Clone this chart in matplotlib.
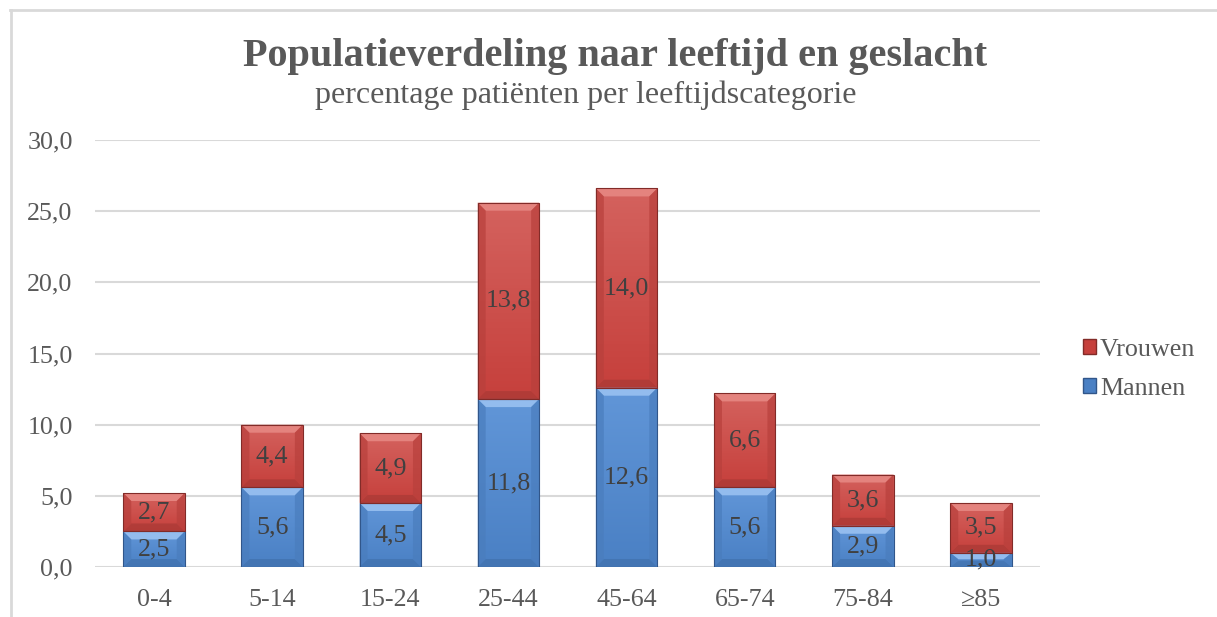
import numpy as np
import matplotlib
matplotlib.use("Agg")
import matplotlib.pyplot as plt
from matplotlib.patches import Polygon, Rectangle
from matplotlib.lines import Line2D
from matplotlib.colors import LinearSegmentedColormap

categories = ["0-4", "5-14", "15-24", "25-44", "45-64", "65-74", "75-84", "≥85"]
mannen = [2.5, 5.6, 4.5, 11.8, 12.6, 5.6, 2.9, 1.0]
vrouwen = [2.7, 4.4, 4.9, 13.8, 14.0, 6.6, 3.6, 3.5]
yticks = [0, 5, 10, 15, 20, 25, 30]

plt.rcParams['font.family'] = ['Liberation Serif', 'DejaVu Serif']
TXT = "#595959"
FS = 18.7

# colour sets: face top, face bottom, top bevel, side bevel, bottom bevel, edge
BLUE = ("#6196d8", "#4a80c4", "#93bcee", "#4a7dbd", "#3f6ea8", "#31568a")
RED = ("#d4625e", "#c6403c", "#e4837e", "#b8403c", "#a33834", "#822b28")


def bevel(ax, rect, cols, px=8):
    """Draw a bevelled look with gradient over a bar patch."""
    x0, y0 = rect.get_x(), rect.get_y()
    x1, y1 = x0 + rect.get_width(), y0 + rect.get_height()
    inv = ax.transData.inverted()
    p0 = inv.transform((0, 0))
    p1 = inv.transform((px, px))
    dx, dy = p1[0] - p0[0], p1[1] - p0[1]
    dy = min(dy, (y1 - y0) / 2.2)
    ftop, fbot, top, side, bot, edge = cols
    cmap = LinearSegmentedColormap.from_list("g", [fbot, ftop])
    im = ax.imshow(np.linspace(0, 1, 64).reshape(-1, 1), cmap=cmap, origin="lower",
                   extent=(x0, x1, y0, y1), aspect="auto", zorder=2.5)
    im.set_clip_path(Rectangle((x0, y0), x1 - x0, y1 - y0, transform=ax.transData))
    ax.add_patch(Polygon([(x0, y1), (x1, y1), (x1 - dx, y1 - dy), (x0 + dx, y1 - dy)],
                         closed=True, fc=top, ec="none", zorder=3))
    ax.add_patch(Polygon([(x0, y0), (x1, y0), (x1 - dx, y0 + dy), (x0 + dx, y0 + dy)],
                         closed=True, fc=bot, ec="none", zorder=3, alpha=0.6))
    ax.add_patch(Polygon([(x0, y0), (x0, y1), (x0 + dx, y1 - dy), (x0 + dx, y0 + dy)],
                         closed=True, fc=side, ec="none", zorder=3, alpha=0.7))
    ax.add_patch(Polygon([(x1, y0), (x1, y1), (x1 - dx, y1 - dy), (x1 - dx, y0 + dy)],
                         closed=True, fc=side, ec="none", zorder=3, alpha=0.7))
    ax.add_patch(Rectangle((x0, y0), x1 - x0, y1 - y0, fc="none", ec=edge, lw=0.8, zorder=4))


fig = plt.figure(figsize=(12.17, 6.17), dpi=100)
ax = fig.add_axes([0.078, 0.081, 0.7766, 0.692])
x = np.arange(len(categories))

ax.set_xlim(-0.5, len(categories) - 0.5)
ax.set_ylim(0, 30)

b1 = ax.bar(x, mannen, width=0.52, color=BLUE[1], zorder=2, label="Mannen")
b2 = ax.bar(x, vrouwen, width=0.52, bottom=mannen, color=RED[1], zorder=2, label="Vrouwen")

for r in b1:
    bevel(ax, r, BLUE)
for r in b2:
    bevel(ax, r, RED)
ax.set_xlim(-0.5, len(categories) - 0.5)
ax.set_ylim(0, 30)

fmt = lambda v: f"{v:.1f}".replace(".", ",")
for cont, vals in ((b1, mannen), (b2, vrouwen)):
    lbl = ax.bar_label(cont, labels=[fmt(v) for v in vals], label_type="center",
                       fontsize=FS, color="#404040")
    for t in lbl:
        t.set_zorder(6)

ax.set_yticks(yticks)
ax.set_yticklabels([fmt(v) for v in yticks], fontsize=FS, color=TXT)
ax.set_xticks(x)
ax.set_xticklabels(categories, fontsize=FS, color=TXT)
ax.tick_params(axis="both", length=0)
ax.tick_params(axis="x", pad=16)
ax.tick_params(axis="y", pad=16)
ax.yaxis.grid(True, color="#d9d9d9", lw=1.5, zorder=0)
ax.set_axisbelow(True)
for s in ax.spines.values():
    s.set_visible(False)

handles = [Rectangle((0, 0), 1, 1, fc=RED[1], ec=RED[5]),
           Rectangle((0, 0), 1, 1, fc=BLUE[1], ec=BLUE[5])]
ax.legend(handles, ["Vrouwen", "Mannen"], loc="center left", bbox_to_anchor=(1.0455, 0.4625),
          frameon=False, fontsize=FS, labelcolor=TXT, handlelength=0.5, borderpad=0,
          borderaxespad=0, handleheight=0.5, handletextpad=0.15, labelspacing=0.65)

fig.text(615 / 1217, 1 - 66 / 617, "Populatieverdeling naar leeftijd en geslacht",
         ha="center", va="baseline", fontsize=29, fontweight="bold", color=TXT)
fig.text(586 / 1217, 1 - 103 / 617, "percentage patiënten per leeftijdscategorie",
         ha="center", va="baseline", fontsize=23, color=TXT)

# outer chart frame (top and left edge visible)
fig.add_artist(Line2D([10 / 1217, 1], [1 - 10 / 617, 1 - 10 / 617], transform=fig.transFigure,
                      color="#d9d9d9", lw=2))
fig.add_artist(Line2D([10.5 / 1217, 10.5 / 1217], [0, 1 - 10 / 617], transform=fig.transFigure,
                      color="#d9d9d9", lw=2))

fig.savefig("out.png", dpi=100)
